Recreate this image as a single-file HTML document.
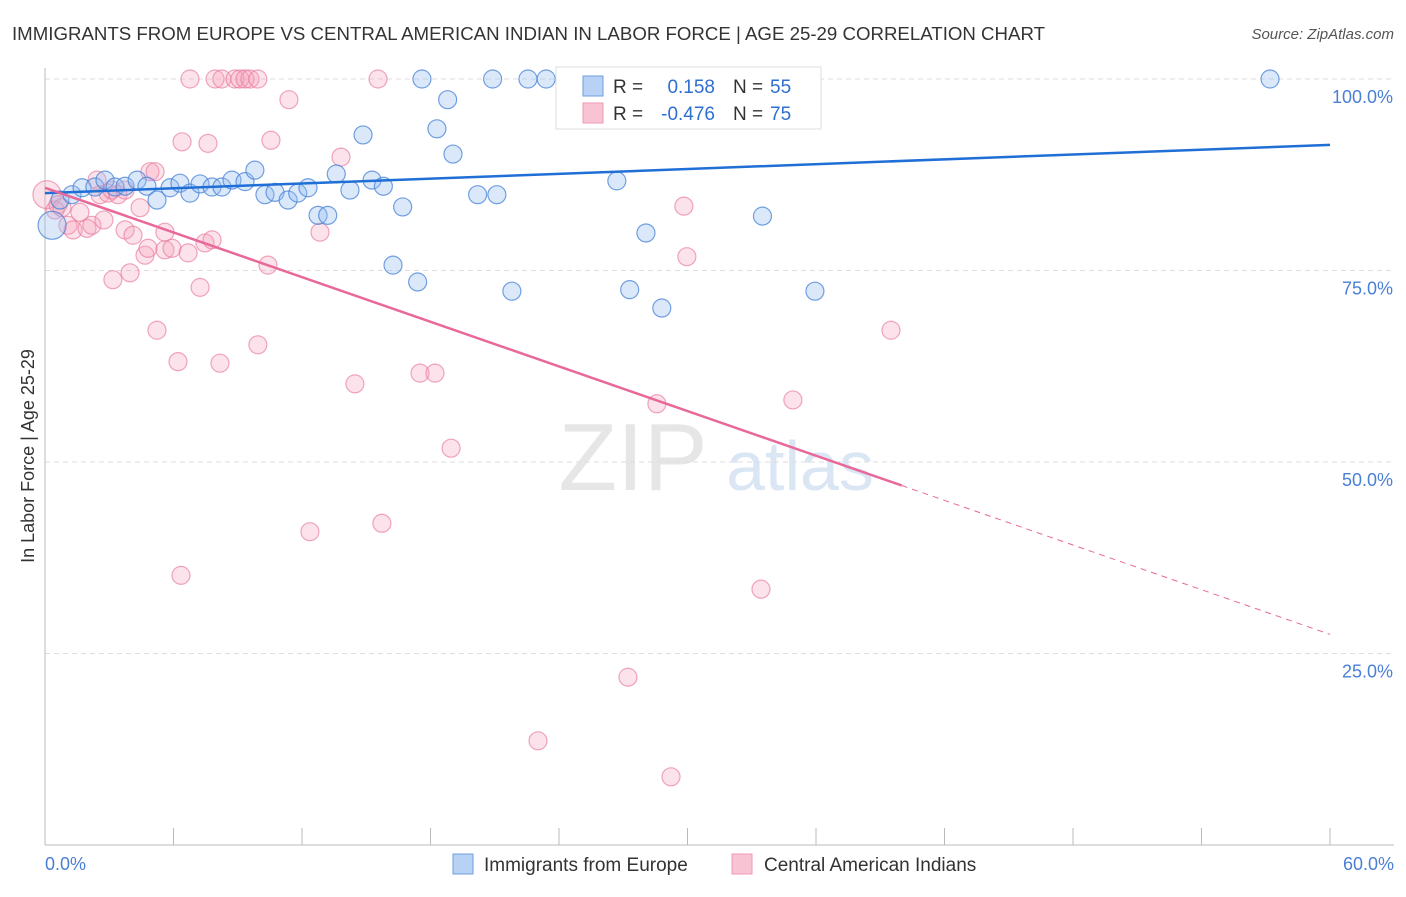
<!DOCTYPE html>
<html><head><meta charset="utf-8"><style>
body{margin:0;background:#fff;font-family:"Liberation Sans",sans-serif}
svg text{font-family:"Liberation Sans",sans-serif}
</style></head><body>
<svg id="chart" width="1406" height="892" viewBox="0 0 1406 892" xmlns="http://www.w3.org/2000/svg">
<text x="12" y="40" font-size="18" fill="#333" textLength="1033" lengthAdjust="spacingAndGlyphs">IMMIGRANTS FROM EUROPE VS CENTRAL AMERICAN INDIAN IN LABOR FORCE | AGE 25-29 CORRELATION CHART</text>
<text x="1394" y="39" font-size="15" fill="#555" text-anchor="end" font-style="italic">Source: ZipAtlas.com</text>
<text x="633" y="490" font-size="96" fill="#e6e6e6" font-family="Liberation Serif" text-anchor="middle">ZIP</text>
<text x="800" y="490" font-size="70" fill="#dbe6f5" text-anchor="middle">atlas</text>
<g id="grid"></g><g id="axes"></g><g id="pts"></g><g id="trend"></g>
<text transform="translate(34,456) rotate(-90)" font-size="18" fill="#333" text-anchor="middle">In Labor Force | Age 25-29</text>
<g>
<rect x="556" y="67" width="265" height="62" fill="#fff" stroke="#ddd"/>
<rect x="583" y="76" width="20" height="20" fill="#b8d2f5" stroke="#6d9ee0"/>
<rect x="583" y="103" width="20" height="20" fill="#f8c4d3" stroke="#ee9ab3"/>
<text x="613" y="93" font-size="19" fill="#333">R = </text><text x="715" y="93" font-size="19" fill="#2f6fd0" text-anchor="end">0.158</text>
<text x="733" y="93" font-size="19" fill="#333">N = </text><text x="770" y="93" font-size="19" fill="#2f6fd0">55</text>
<text x="613" y="120" font-size="19" fill="#333">R = </text><text x="715" y="120" font-size="19" fill="#2f6fd0" text-anchor="end">-0.476</text>
<text x="733" y="120" font-size="19" fill="#333">N = </text><text x="770" y="120" font-size="19" fill="#2f6fd0">75</text>
</g>
<g>
<rect x="453" y="854" width="20" height="20" fill="#b8d2f5" stroke="#6d9ee0"/>
<text x="484" y="871" font-size="19" fill="#333">Immigrants from Europe</text>
<rect x="732" y="854" width="20" height="20" fill="#f8c4d3" stroke="#ee9ab3"/>
<text x="764" y="871" font-size="19" fill="#333">Central American Indians</text>
</g>
</svg>
<script>
const yTicks=[100,75,50,25];
const yTickLabels=["100.0%","75.0%","50.0%","25.0%"];
const xTicks=[0,6,12,18,24,30,36,42,48,54,60];
const blueX=[0.33,0.7,1.26,1.73,2.33,2.8,3.27,3.74,4.3,4.76,5.23,5.84,6.3,6.77,7.24,7.8,8.26,8.73,9.34,9.8,10.27,10.74,11.35,11.8,12.28,12.75,13.2,13.6,14.24,14.85,15.27,15.8,16.7,16.25,17.4,17.6,18.3,18.8,19.05,20.2,20.9,21.1,21.8,22.55,23.4,24.98,25.7,26.7,27.3,28.06,28.8,33.5,35.95,57.2];
const blueY=[80.9,84.2,84.9,85.8,85.9,86.8,85.9,86.0,86.8,86.0,84.2,85.8,86.4,85.1,86.3,85.9,85.9,86.8,86.6,88.1,84.9,85.2,84.2,85.1,85.8,82.2,82.2,87.6,85.5,92.7,86.8,86.0,83.3,75.7,73.5,100,93.5,97.3,90.2,84.9,100,84.9,72.3,100,100,97.7,99.3,86.7,72.5,79.9,70.1,82.1,72.3,100];
const pinkX=[0.09,0.47,0.61,0.79,1.07,1.31,1.63,1.96,2.19,2.43,2.57,2.94,3.13,3.41,3.74,3.97,3.17,2.75,3.74,4.11,4.44,4.67,4.9,5.14,4.81,5.23,5.6,5.6,5.93,6.21,6.4,6.68,6.77,7.24,7.47,7.61,7.8,7.94,8.17,8.26,8.87,9.1,9.34,9.57,9.94,9.94,10.41,10.55,11.39,12.37,12.84,13.82,14.47,15.55,15.73,17.51,18.21,18.96,6.35,23.02,27.22,28.57,29.23,29.83,29.97,32.54,33.43,34.92,39.5];
const pinkY=[84.9,82.9,83.6,83.2,80.9,80.3,82.6,80.5,80.9,86.8,84.9,85.1,85.5,84.9,85.5,74.7,73.8,81.6,80.3,79.6,83.2,77.0,87.9,87.9,77.9,67.2,80.0,77.7,77.9,63.1,91.8,77.3,100,72.8,78.6,91.6,79.0,100,62.9,100,100,100,100,100,100,65.3,75.7,92.0,97.3,40.9,80.0,89.8,60.2,100,42.0,61.6,61.6,51.8,35.2,13.6,21.9,57.6,8.9,83.4,76.8,100,33.4,58.1,67.2];
const blueTrend=[85.1,91.4];
const pinkTrend=[85.8,27.5];
const pinkSolidEnd=40;
const X=v=>45+v/60*1285, Y=v=>845-v/100*766;
const NS="http://www.w3.org/2000/svg";
function mk(p,t,a){const e=document.createElementNS(NS,t);for(const k in a)e.setAttribute(k,a[k]);document.getElementById(p).appendChild(e);return e;}
yTicks.forEach((t,i)=>{
 const l=mk('grid','line',{x1:45,x2:1394,y1:Y(t),y2:Y(t),stroke:'#ddd','stroke-dasharray':'5,4'});
 
 
 const tx=mk('grid','text',{x:1393,y:Y(t)+24,'font-size':18,fill:'#4a7fd6','text-anchor':'end'});tx.textContent=yTickLabels[i];
 
 
});
let a=mk('axes','line',{x1:45,x2:45,y1:68,y2:845,stroke:'#bbb'});


a=mk('axes','line',{x1:45,x2:1394,y1:845,y2:845,stroke:'#bbb'});


xTicks.forEach(t=>{const l=mk('axes','line',{x1:X(t),x2:X(t),y1:828,y2:845,stroke:'#bbb'});
 
 });
let t0=mk('axes','text',{x:45,y:870,'font-size':18,fill:'#4a7fd6'});t0.textContent='0.0%';


t0=mk('axes','text',{x:1394,y:870,'font-size':18,fill:'#4a7fd6','text-anchor':'end'});t0.textContent='60.0%';


pinkX.forEach((x,i)=>{const c=mk('pts','circle',{cx:X(x),cy:Y(pinkY[i]),r:i==0?14:9,fill:'rgba(245,160,185,0.3)',stroke:'rgba(232,120,155,0.65)','stroke-width':1.2});
 
 });
blueX.forEach((x,i)=>{const c=mk('pts','circle',{cx:X(x),cy:Y(blueY[i]),r:i==0?14:9,fill:'rgba(150,190,240,0.35)',stroke:'rgba(70,130,215,0.75)','stroke-width':1.2});
 
 });
let tl=mk('trend','line',{x1:X(0),y1:Y(blueTrend[0]),x2:X(60),y2:Y(blueTrend[1]),stroke:'#1f6fd6','stroke-width':2.5});


const py=v=>pinkTrend[0]+(pinkTrend[1]-pinkTrend[0])*v/60;
tl=mk('trend','line',{x1:X(0),y1:Y(py(0)),x2:X(pinkSolidEnd),y2:Y(py(pinkSolidEnd)),stroke:'#e8689a','stroke-width':2.5});


tl=mk('trend','line',{x1:X(pinkSolidEnd),y1:Y(py(pinkSolidEnd)),x2:X(60),y2:Y(py(60)),stroke:'#e8689a','stroke-width':1,'stroke-dasharray':'6,5'});


</script>
</body></html>
